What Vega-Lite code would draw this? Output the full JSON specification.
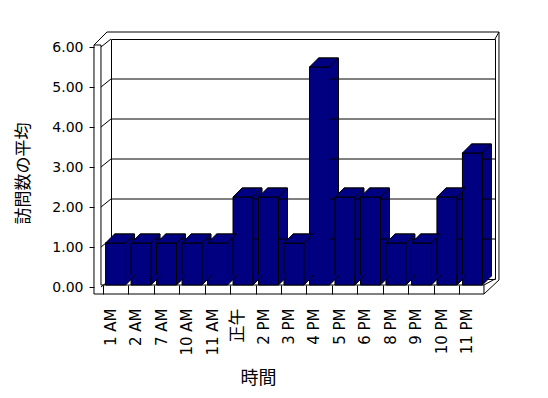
{
  "$schema": "https://vega.github.io/schema/vega-lite/v6.json",
  "autosize": "none",
  "width": 384,
  "height": 240,
  "padding": {"left": 111, "top": 39, "right": 53, "bottom": 119},
  "background": "white",
  "config": {
    "view": {"stroke": "black", "strokeWidth": 1},
    "axis": {"labelColor": "black", "titleColor": "black", "tickColor": "black"}
  },
  "datasets": {
    "bars": [
      {"hour": "1 AM", "visits": 1.05},
      {"hour": "2 AM", "visits": 1.05},
      {"hour": "7 AM", "visits": 1.05},
      {"hour": "10 AM", "visits": 1.05},
      {"hour": "11 AM", "visits": 1.05},
      {"hour": "正午", "visits": 2.2},
      {"hour": "2 PM", "visits": 2.2},
      {"hour": "3 PM", "visits": 1.05},
      {"hour": "4 PM", "visits": 5.45},
      {"hour": "5 PM", "visits": 2.2},
      {"hour": "6 PM", "visits": 2.2},
      {"hour": "8 PM", "visits": 1.05},
      {"hour": "9 PM", "visits": 1.05},
      {"hour": "10 PM", "visits": 2.2},
      {"hour": "11 PM", "visits": 3.3}
    ],
    "grid": [
      {"hour": "1 AM", "visits": 1},
      {"hour": "1 AM", "visits": 2},
      {"hour": "1 AM", "visits": 3},
      {"hour": "1 AM", "visits": 4},
      {"hour": "1 AM", "visits": 5}
    ],
    "walls": [
      {"hour": "1 AM", "visits": 0},
      {"hour": "1 AM", "visits": 1},
      {"hour": "1 AM", "visits": 2},
      {"hour": "1 AM", "visits": 3},
      {"hour": "1 AM", "visits": 4},
      {"hour": "1 AM", "visits": 5},
      {"hour": "1 AM", "visits": 6}
    ],
    "anchor": [
      {"hour": "1 AM", "visits": 0}
    ]
  },
  "encoding": {
    "x": {
      "field": "hour", "type": "nominal",
      "scale": {"domain": ["1 AM", "2 AM", "7 AM", "10 AM", "11 AM", "正午", "2 PM", "3 PM", "4 PM", "5 PM", "6 PM", "8 PM", "9 PM", "10 PM", "11 PM"], "paddingInner": 0.215, "paddingOuter": 0.14},
      "axis": {
        "title": "時間", "orient": "bottom", "offset": 6, "domain": false, "grid": false,
        "ticks": true, "tickSize": 9, "tickColor": "black", "bandPosition": 0, "tickOffset": -12,
        "labelOffset": -2.5, "labelAngle": -90, "labelAlign": "right", "labelBaseline": "middle",
        "labelPadding": 14, "labelFont": "DejaVu Sans, Noto Sans CJK JP",
        "labelFontSize": {"condition": {"test": "datum.value === '正午'", "value": 17}, "value": 15},
        "labelColor": "black", "labelOverlap": false,
        "titleFont": "Noto Sans CJK JP", "titleFontSize": 18, "titleFontWeight": "normal",
        "titleX": 147, "titlePadding": 14, "titleColor": "black"
      }
    },
    "y": {
      "field": "visits", "type": "quantitative",
      "scale": {"domain": [0, 6], "nice": false, "zero": true},
      "axis": {
        "title": "訪問数の平均", "grid": false, "domain": false, "offset": 17,
        "tickOffset": 8, "tickSize": 5, "tickColor": "black", "values": [0, 1, 2, 3, 4, 5, 6], "tickCount": 7,
        "format": ".2f", "labelFont": "DejaVu Sans", "labelFontSize": 14, "labelPadding": 6,
        "labelColor": "black", "labelOverlap": false, "labelBound": false,
        "titleFont": "Noto Sans CJK JP", "titleFontSize": 17, "titleFontWeight": "normal",
        "titlePadding": 19, "titleY": 134, "titleColor": "black"
      }
    }
  },
  "layer": [
    {
      "data": {"name": "bars"},
      "mark": {"type": "bar", "fill": "#000080", "stroke": "black", "strokeWidth": 1, "yOffset": -3, "y2Offset": -3},
      "encoding": {
        "y2": {"datum": 0}
      }
    },
    {
      "data": {"name": "grid"},
      "mark": {"type": "rule", "color": "black", "strokeWidth": 1},
      "encoding": {
        "x": null
      }
    },
    {
      "data": {"name": "walls"},
      "mark": {"type": "point", "shape": "M-23.6,8 L-13.6,0", "size": 4, "filled": false, "stroke": "black", "strokeWidth": 1, "opacity": 1},
      "encoding": {}
    },
    {
      "data": {"name": "anchor"},
      "mark": {"type": "point", "shape": "M-30.6,15 L-30.6,-234 L-23.6,-234 L-23.6,6 M-30.6,-234 L-17.6,-247 L374.4,-247 L374.4,1 M-30.6,15 L359.4,15 L359.4,6 L-23.6,6 M359.4,15 L374.4,1 M359.4,6 L370.4,0 M370.4,-240 L374.4,-247", "size": 4, "filled": false, "stroke": "black", "strokeWidth": 1, "opacity": 1},
      "encoding": {}
    },
    {
      "data": {"name": "bars"},
      "mark": {"type": "bar", "fill": "#000080", "stroke": "black", "strokeWidth": 1, "xOffset": -9, "yOffset": 6, "y2Offset": 6},
      "encoding": {
        "y2": {"datum": 0}
      }
    },
    {
      "data": {"name": "bars"},
      "mark": {"type": "point", "shape": "M-19,6 L1,6 L10,-3 L-10,-3 Z", "size": 4, "filled": true, "fill": "#000080", "stroke": "black", "strokeWidth": 1, "opacity": 1},
      "encoding": {}
    },
    {
      "data": {"name": "bars"},
      "mark": {"type": "point", "shape": "M1,-4 L1,6 L10,-3 L10,-4", "size": 4, "filled": true, "fill": "#000080", "stroke": "black", "strokeWidth": 1, "opacity": 1},
      "encoding": {
        "y": {"datum": 0}
      }
    }
  ]
}
